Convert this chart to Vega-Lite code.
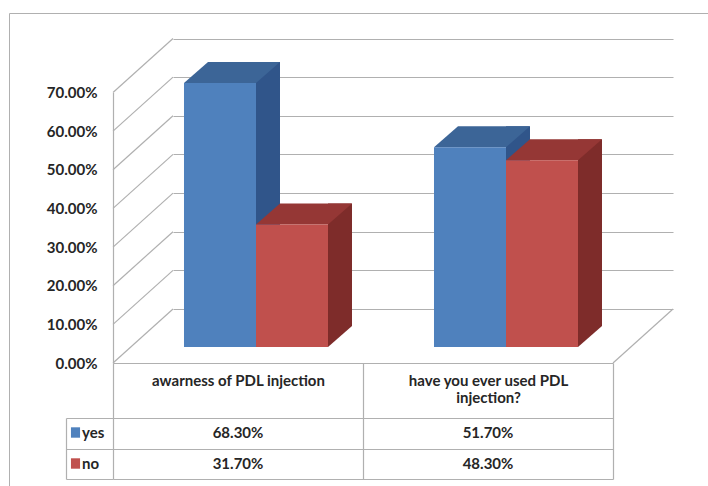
{
  "$schema": "https://vega.github.io/schema/vega-lite/v6.json",
  "width": 701,
  "height": 475,
  "autosize": {"type": "none"},
  "padding": {"left": 9, "top": 13, "right": -2, "bottom": -2},
  "background": "#ffffff",
  "config": {"view": {"stroke": "#b0b0b0", "strokeWidth": 1}, "font": "Lato"},
  "datasets": {
    "axisTicks": [
      {"tick": 0}, {"tick": 0.1}, {"tick": 0.2}, {"tick": 0.3},
      {"tick": 0.4}, {"tick": 0.5}, {"tick": 0.6}, {"tick": 0.7}
    ]
  },
  "data": {"values": [
    {"question": "awarness of PDL injection", "answer": "yes", "share": 0.683},
    {"question": "awarness of PDL injection", "answer": "no", "share": 0.317},
    {"question": "have you ever used PDL injection?", "answer": "yes", "share": 0.517},
    {"question": "have you ever used PDL injection?", "answer": "no", "share": 0.483}
  ]},
  "layer": [
    {
      "encoding": {
        "x": {"field": "question", "type": "nominal", "sort": null, "axis": null,
              "scale": {"domain": ["awarness of PDL injection", "have you ever used PDL injection?"], "range": [164, 664], "paddingInner": 0, "paddingOuter": 0}},
        "y": {"field": "share", "type": "quantitative",
              "scale": {"domain": [0, 0.7], "range": [350, 79.5], "nice": false, "zero": true}}
      },
      "layer": [
        {
          "data": {"name": "axisTicks"},
          "mark": {"type": "point", "shape": "M0,0L-60,54", "size": 4, "filled": false, "opacity": 1, "strokeWidth": 1.2, "color": "#b0b0b0", "yOffset": -54},
          "encoding": {
            "x": {"datum": "awarness of PDL injection", "type": "nominal", "bandPosition": 0},
            "y": {"field": "tick", "type": "quantitative"}
          }
        },
        {
          "data": {"name": "axisTicks"},
          "transform": [{"filter": "datum.tick === 0"}],
          "mark": {"type": "point", "shape": "M0,0L-60,54", "size": 4, "filled": false, "opacity": 1, "strokeWidth": 1.2, "color": "#b0b0b0", "yOffset": -54},
          "encoding": {
            "x": {"datum": "have you ever used PDL injection?", "type": "nominal", "bandPosition": 1},
            "y": {"field": "tick", "type": "quantitative"}
          }
        },
        {
          "mark": {"type": "bar", "width": 24, "yOffset": -37, "y2Offset": -37},
          "encoding": {
            "xOffset": {"field": "answer", "type": "nominal", "sort": null,
                        "scale": {"type": "band", "domain": ["yes", "no"], "range": [6, 256], "paddingInner": 0, "paddingOuter": 0.736}},
            "color": {"condition": {"test": "datum.answer === 'yes'", "value": "#30558a"}, "value": "#7e2c2a"}
          }
        },
        {
          "mark": {"type": "point", "shape": "M36,-21L36,0L60,-21Z", "size": 4, "filled": true, "opacity": 1, "strokeWidth": 0, "yOffset": -16},
          "encoding": {
            "xOffset": {"field": "answer", "type": "nominal", "sort": null,
                        "scale": {"type": "band", "domain": ["yes", "no"], "range": [-42, 208], "paddingInner": 0, "paddingOuter": 0.736}},
            "y": {"datum": 0, "type": "quantitative"},
            "color": {"condition": {"test": "datum.answer === 'yes'", "value": "#30558a"}, "value": "#7e2c2a"}
          }
        },
        {
          "mark": {"type": "point", "shape": "M-36,0L36,0L60,-21L-12,-21Z", "size": 4, "filled": true, "opacity": 1, "strokeWidth": 0, "yOffset": -16},
          "encoding": {
            "xOffset": {"field": "answer", "type": "nominal", "sort": null,
                        "scale": {"type": "band", "domain": ["yes", "no"], "range": [-42, 208], "paddingInner": 0, "paddingOuter": 0.736}},
            "color": {"condition": {"test": "datum.answer === 'yes'", "value": "#3c6597"}, "value": "#953735"}
          }
        },
        {
          "mark": {"type": "bar", "yOffset": -16, "y2Offset": -16},
          "encoding": {
            "xOffset": {"field": "answer", "type": "nominal", "sort": null,
                        "scale": {"type": "band", "domain": ["yes", "no"], "range": [-42, 208], "paddingInner": 0, "paddingOuter": 0.736}},
            "y": {"field": "share", "type": "quantitative",
                  "scale": {"domain": [0, 0.7], "range": [350, 79.5], "nice": false, "zero": true},
                  "axis": {
                    "orient": "left", "offset": -104, "title": null,
                    "values": [0, 0.1, 0.2, 0.3, 0.4, 0.5, 0.6, 0.7], "format": ".2%",
                    "domain": true, "domainColor": "#b0b0b0", "domainWidth": 1.2,
                    "ticks": false, "tickOffset": -54,
                    "grid": true, "gridColor": "#b0b0b0", "gridWidth": 1.2,
                    "labelOffset": 54, "labelPadding": 16, "labelFont": "Lato", "labelFontSize": 15, "labelFontWeight": "bold", "labelColor": "#262626"
                  }},
            "color": {"field": "answer", "type": "nominal", "sort": null,
                      "scale": {"domain": ["yes", "no"], "range": ["#4f81bd", "#c0504d"]},
                      "legend": {"orient": "none", "legendX": 59, "legendY": 412, "title": null,
                                 "symbolType": "M-0.7,-0.8H0.7V0.8H-0.7Z", "symbolSize": 169, "symbolStrokeWidth": 0,
                                 "labelFont": "Lato", "labelFontSize": 15, "labelFontWeight": "bold", "labelColor": "#262626",
                                 "rowPadding": 15, "padding": 0, "labelOffset": -1}}
          }
        }
      ],
      "resolve": {"scale": {"xOffset": "independent"}}
    },
    {
      "mark": {"type": "text", "font": "Lato", "fontSize": 15, "fontWeight": "bold", "color": "#262626"},
      "encoding": {
        "x": {"field": "question", "type": "nominal", "sort": null,
              "scale": {"domain": ["awarness of PDL injection", "have you ever used PDL injection?"], "range": [104, 604], "paddingInner": 0, "paddingOuter": 0},
              "axis": {
                "orient": "bottom", "offset": -125, "title": null,
                "domain": true, "domainColor": "#b0b0b0", "domainWidth": 1.2,
                "ticks": true, "tickBand": "extent", "tickSize": 116, "tickColor": "#b0b0b0", "tickWidth": 1.2,
                "labelPadding": -106, "labelFont": "Lato", "labelFontSize": 15, "labelFontWeight": "bold", "labelColor": "#262626",
                "labelLimit": 0, "labelAngle": 0, "labelLineHeight": 17,
                "labelExpr": "datum.label == 'have you ever used PDL injection?' ? ['have you ever used PDL', 'injection?'] : datum.label",
                "grid": false
              }},
        "y": {"field": "answer", "type": "nominal", "sort": null,
              "scale": {"domain": ["yes", "no"], "range": [405, 466], "paddingInner": 0, "paddingOuter": 0},
              "axis": {
                "orient": "left", "offset": -57, "title": null, "labels": false,
                "domain": true, "domainColor": "#b0b0b0", "domainWidth": 1.2,
                "ticks": true, "tickBand": "extent", "tickSize": -47, "tickColor": "#b0b0b0", "tickWidth": 1.2,
                "grid": true, "gridColor": "#b0b0b0", "gridWidth": 1.2
              }},
        "text": {"field": "share", "type": "quantitative", "format": ".2%"}
      }
    }
  ],
  "resolve": {"scale": {"x": "independent", "y": "independent"}}
}
